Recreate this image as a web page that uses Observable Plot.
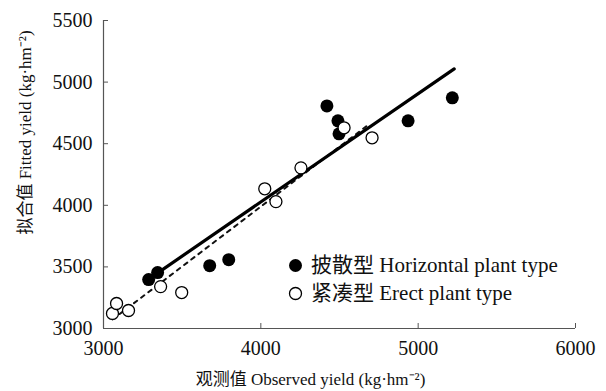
<!DOCTYPE html>
<html>
<head>
<meta charset="utf-8">
<script src="https://cdn.jsdelivr.net/npm/d3@7"></script>
<script src="https://cdn.jsdelivr.net/npm/@observablehq/plot@0.6"></script>
<style>
  html, body { margin: 0; padding: 0; background: #fff; }
  #wrap { position: relative; width: 606px; height: 391px; font-family: "Liberation Serif", "Noto Sans CJK SC", serif; }
  #chart svg, #chart svg text { font-family: "Liberation Serif", "Noto Sans CJK SC", serif !important; }
  #legend { position: absolute; left: 287px; top: 251px; font-size: 21px; color: #111; line-height: 28px; }
  #legend div { display: flex; align-items: center; white-space: nowrap; }
  #legend svg { margin-right: 7px; }
</style>
</head>
<body>
<div id="wrap">
  <div id="chart"></div>
  <div id="legend"></div>
</div>
<script>
// Horizontal plant type (filled)
const horizontalX = [3287, 3344, 3675, 3796, 4420, 4490, 4497, 4936, 5217];
const horizontalY = [3397, 3454, 3510, 3559, 4807, 4686, 4580, 4686, 4872];
// Erect plant type (open)
const erectX = [3057, 3083, 3159, 3363, 3497, 4025, 4096, 4255, 4529, 4707];
const erectY = [3122, 3203, 3146, 3340, 3292, 4134, 4030, 4304, 4629, 4548];
// Fitted lines
const solidX = [3357, 5229];
const solidY = [3462, 5107];
const dashedX = [3057, 4690];
const dashedY = [3073, 4660];
// Ticks
const xTicks = [3000, 4000, 5000, 6000];
const yTicks = [3000, 3500, 4000, 4500, 5000, 5500];
const xTitle = "观测值 Observed yield (kg·hm⁻²)";
const yTitle = "拟合值 Fitted yield (kg·hm⁻²)";
const legendLabels = ["披散型 Horizontal plant type", "紧凑型 Erect plant type"];

const horiz = horizontalX.map((x, i) => ({x, y: horizontalY[i]}));
const erect = erectX.map((x, i) => ({x, y: erectY[i]}));
const solid = solidX.map((x, i) => ({x, y: solidY[i]}));
const dashed = dashedX.map((x, i) => ({x, y: dashedY[i]}));

const font = '"Liberation Serif", "Noto Sans CJK SC", serif';

const chart = Plot.plot({
  width: 606,
  height: 391,
  marginLeft: 103,
  marginRight: 31,
  marginTop: 20,
  marginBottom: 63,
  style: {fontFamily: font, background: "#fff", color: "#111"},
  x: {domain: [xTicks[0], xTicks[xTicks.length - 1]]},
  y: {domain: [yTicks[0], yTicks[yTicks.length - 1]]},
  marks: [
    Plot.ruleY([yTicks[0]], {stroke: "#555", strokeWidth: 1.2}),
    Plot.ruleX([xTicks[0]], {stroke: "#555", strokeWidth: 1.2}),
    Plot.axisX({ticks: xTicks, tickSize: -5, tickPadding: 17, tickFormat: d => String(d), fontSize: 20, fontFamily: font, stroke: "#555", label: null}),
    Plot.axisY({ticks: yTicks, tickSize: -5, tickPadding: 16, tickFormat: d => String(d), fontSize: 20, fontFamily: font, stroke: "#555", label: null}),
    Plot.line(dashed, {x: "x", y: "y", stroke: "#111", strokeWidth: 2, strokeDasharray: "4,5"}),
    Plot.line(solid, {x: "x", y: "y", stroke: "#000", strokeWidth: 3.2}),
    Plot.dot(horiz, {x: "x", y: "y", r: 6.5, fill: "#000", stroke: "none"}),
    Plot.dot(erect, {x: "x", y: "y", r: 6, fill: "#fff", stroke: "#000", strokeWidth: 1.3}),
    Plot.text([xTitle], {frameAnchor: "bottom", text: d => d, dx: -29, dy: 51, lineAnchor: "middle", fontSize: 17, fontFamily: font, fill: "#111"}),
    Plot.text([yTitle], {frameAnchor: "left", text: d => d, dx: -78, dy: -42, rotate: -90, textAnchor: "middle", lineAnchor: "middle", fontSize: 17, fontFamily: font, fill: "#111"})
  ]
});
document.getElementById("chart").appendChild(chart);

const legend = document.getElementById("legend");
legendLabels.forEach((label, i) => {
  const row = document.createElement("div");
  const sw = i === 0
    ? '<svg width="17" height="17"><circle cx="8.5" cy="8.5" r="6.5" fill="#000"/></svg>'
    : '<svg width="17" height="17"><circle cx="8.5" cy="8.5" r="6" fill="#fff" stroke="#000" stroke-width="1.3"/></svg>';
  row.innerHTML = sw + "<span>" + label + "</span>";
  legend.appendChild(row);
});
</script>
</body>
</html>
